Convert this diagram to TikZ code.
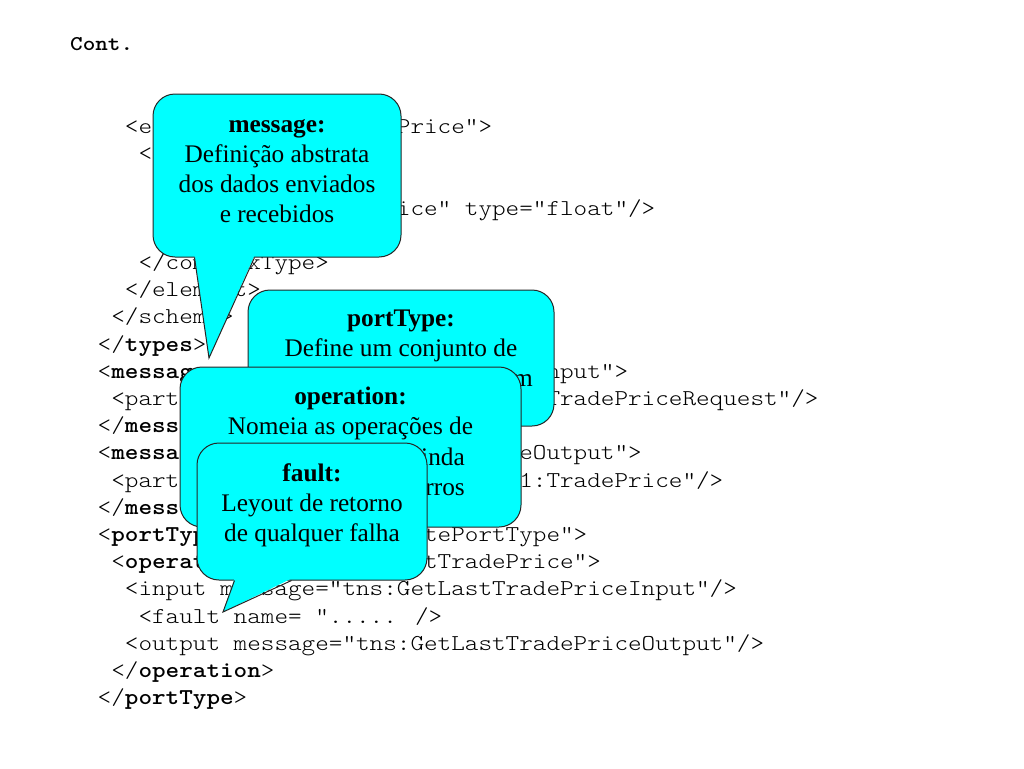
\documentclass[tikz,border=0pt]{standalone}
\usepackage{fontspec}
\usetikzlibrary{
  positioning,
  calc
}
\newfontfamily\codefont[Extension=.otf, BoldFont=lmmonolt10-bold, FakeStretch=1.1427]{lmmonolt10-regular}
\newfontfamily\notefont{Liberation Serif}
\definecolor{notecyan}{RGB}{0,255,255}
\tikzset{
  code/.style={anchor=base west, inner sep=0pt, font=\codefont\fontsize{22.67}{27.2}\selectfont},
  title/.style={anchor=base west, inner sep=0pt, font=\codefont\bfseries\fontsize{21}{25}\selectfont},
  note/.style={draw=black!85, line width=1pt, fill=notecyan, rounded corners=22pt, inner sep=0pt},
  notetext/.style={inner sep=0pt, align=center, font=\notefont\fontsize{25.3}{30}\selectfont},
  pointer/.style={draw=black!85, line width=1pt, line join=miter}
}

\begin{document}
\begin{tikzpicture}[x=1pt, y=-1pt]
    \useasboundingbox (0,0) rectangle (1024,768);
    \node[title] (cont) at (70,51) {Cont.};
    % code lines, only what shows round the notes
    \foreach \row/\col/\txt in {0/2/{<e}, 0/22/{Price">}, 1/3/{<},
        3/22/{ice" type="float"/>}, 5/3/{</com}, 5/11/{xType>},
        6/2/{</elem}, 6/10/{t>}, 7/1/{</schem}, 7/9/{>},
        8/0/{</\textbf{types}>}, 9/0/{<\textbf{messag}}, 9/33/{nput">},
        10/1/{<part}, 10/33/{TradePriceRequest"/>}, 11/0/{</\textbf{mess}},
        12/0/{<\textbf{messa}}, 12/31/{eOutput">}, 13/1/{<part},
        13/31/{1:TradePrice"/>}, 14/0/{</\textbf{mess}},
        15/0/{<\textbf{portTyp}}, 15/24/{tePortType">},
        16/1/{<\textbf{operat}}, 16/24/{tTradePrice">},
        17/2/{<input m}, 17/12/{sage="tns:GetLastTradePriceInput"/>},
        18/3/{<fault name= “..... />},
        19/2/{<output message="tns:GetLastTradePriceOutput"/>},
        20/1/{</\textbf{operation}>}, 21/0/{</\textbf{portType}>}}
      \node[code] (code-\row-\col) at (97.5+\col*13.6, 133.5+\row*27.2) {\txt};
    % message
    \node[note, minimum width=248pt, minimum height=163pt] (msg) at (277,175.5) {};
    \coordinate (msgtip) at (209,358);
    \fill[notecyan] ($(msg.south west)+(42,-2)$) -- (msgtip) -- ($(msg.south west)+(102,-2)$) -- cycle;
    \draw[pointer] ($(msg.south west)+(42,0)$) -- (msgtip) -- ($(msg.south west)+(102,0)$);
    \node[notetext, below=18pt of msg.north] (msgtext) {\strut\textbf{message:}\\Definição abstrata\\dos dados enviados\\e recebidos};
    % portType
    \node[note, minimum width=306pt, minimum height=136pt] (ptype) at (401,358) {};
    \node[notetext, below=16pt of ptype.north] (ptypetext) {\strut\textbf{portType:}\\Define um conjunto de};
    \node[notetext, anchor=base east] (ptypem) at (533,386) {m};
    % operation
    \node[note, minimum width=341pt, minimum height=160pt] (oper) at (350.5,447) {};
    \node[notetext, below=17pt of oper.north] (opertext) {\strut\textbf{operation:}\\Nomeia as operações de};
    \node[notetext, anchor=base east] (operinda) at (465,465) {inda};
    \node[notetext, anchor=base east] (operrros) at (465,495) {rros};
    % fault
    \node[note, minimum width=230pt, minimum height=137pt] (flt) at (312,511.5) {};
    \coordinate (flttip) at (223,612);
    \fill[notecyan] ($(flt.south west)+(38,-2)$) -- (flttip) -- ($(flt.south west)+(95,-2)$) -- cycle;
    \draw[pointer] ($(flt.south west)+(38,0)$) -- (flttip) -- ($(flt.south west)+(95,0)$);
    \node[notetext, below=18pt of flt.north] (flttext) {\strut\textbf{fault:}\\Leyout de retorno\\de qualquer falha};
  \end{tikzpicture}
\end{document}
